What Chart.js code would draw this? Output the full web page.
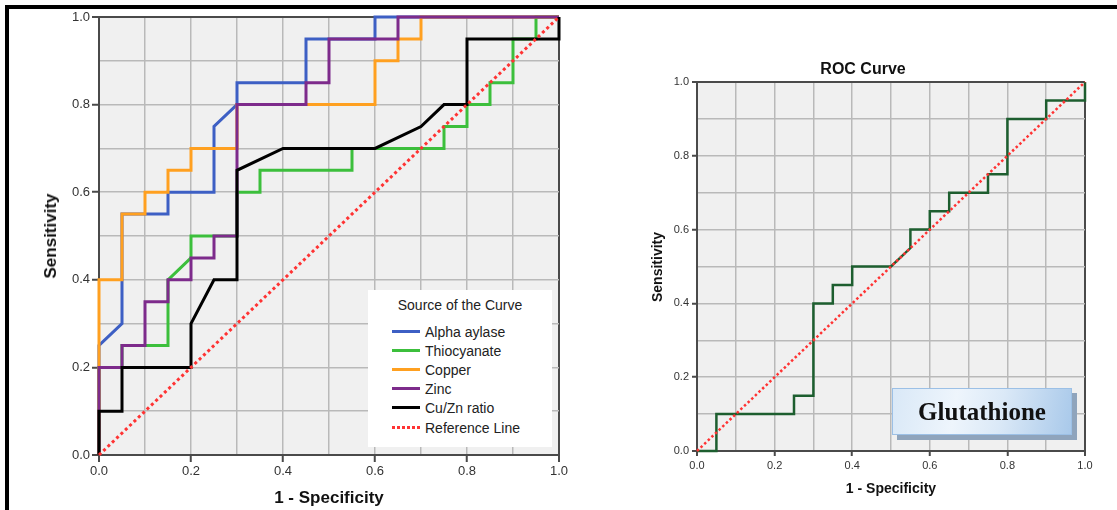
<!DOCTYPE html>
<html>
<head>
<meta charset="utf-8">
<script src="https://cdn.jsdelivr.net/npm/chart.js@4.4.0/dist/chart.umd.min.js"></script>
<style>
  html, body { margin:0; padding:0; }
  body { width:1117px; height:510px; background:#fff; position:relative; overflow:hidden;
         font-family:"Liberation Sans", Arial, sans-serif; color:#222; }
  .abs { position:absolute; }
  canvas { position:absolute; top:0; }
  #frameTop { left:5px; top:5px; width:1112px; height:4px; background:#000; z-index:5; }
  #frameLeft { left:5px; top:5px; width:4px; height:505px; background:#000; z-index:5; }
  .ttl { position:absolute; font-weight:bold; color:#111; white-space:nowrap; }
  .rot { transform:translate(-50%,-50%) rotate(-90deg); }
  .ctr { transform:translate(-50%,-50%); }
  #legend { left:368px; top:290px; width:184px; height:157px; background:#fff; z-index:4; }
  #legend .lt { position:absolute; left:0; width:184px; top:6px; text-align:center; font-size:14px; line-height:18px; color:#222; }
  #legend .row { position:absolute; left:0; height:18px; line-height:18px; font-size:14px; color:#222; }
  #legend .sw { position:absolute; left:24px; top:7px; width:28px; height:3px; }
  #legend .tx { position:absolute; left:57px; top:0; white-space:nowrap; }
  #gbox { left:892px; top:388px; width:180px; height:47px; box-sizing:border-box;
          border:1px solid #9cc0e6;
          background:linear-gradient(100deg, #d9e8f7 0%, #eef5fc 35%, #dbe9f7 60%, #a9c9ea 100%);
          box-shadow:5px 5px 0 #8fa4bc; z-index:4;
          font-family:"Liberation Serif", "Times New Roman", serif; font-weight:bold; font-size:25px;
          color:#111; text-align:center; line-height:45px; }
</style>
</head>
<body>
<canvas id="c1" width="600" height="510" style="left:0px;"></canvas>
<canvas id="c2" width="497" height="510" style="left:620px;"></canvas>
<div id="frameTop" class="abs"></div>
<div id="frameLeft" class="abs"></div>

<div class="ttl ctr" style="left:329px; top:498px; font-size:17px;">1 - Specificity</div>
<div class="ttl rot" style="left:51px; top:236px; font-size:17px;">Sensitivity</div>

<div class="ttl ctr" style="left:863px; top:69px; font-size:16px;">ROC Curve</div>
<div class="ttl ctr" style="left:891px; top:488px; font-size:14px;">1 - Specificity</div>
<div class="ttl rot" style="left:657px; top:267px; font-size:14px;">Sensitivity</div>

<div id="legend" class="abs">
  <div class="lt">Source of the Curve</div>
</div>
<div id="gbox" class="abs">Glutathione</div>

<script>
// ---------- data ----------
const gridTicks  = [0, 0.1, 0.2, 0.3, 0.4, 0.5, 0.6, 0.7, 0.8, 0.9, 1.0];
const tickLabels = ['0.0', '0.2', '0.4', '0.6', '0.8', '1.0'];

const seriesNames = ['Alpha aylase', 'Thiocyanate', 'Copper', 'Zinc', 'Cu/Zn ratio', 'Reference Line'];

const alphaX = [0, 0, 0.05, 0.05, 0.15, 0.15, 0.25, 0.25, 0.30, 0.30, 0.45, 0.45, 0.60, 0.60, 1.0];
const alphaY = [0, 0.25, 0.30, 0.55, 0.55, 0.60, 0.60, 0.75, 0.80, 0.85, 0.85, 0.95, 0.95, 1.0, 1.0];

const thioX = [0, 0, 0.05, 0.05, 0.15, 0.15, 0.20, 0.20, 0.30, 0.30, 0.35, 0.35, 0.55, 0.55, 0.75, 0.75, 0.80, 0.80, 0.85, 0.85, 0.90, 0.90, 0.95, 0.95, 1.0];
const thioY = [0, 0.20, 0.20, 0.25, 0.25, 0.40, 0.45, 0.50, 0.50, 0.60, 0.60, 0.65, 0.65, 0.70, 0.70, 0.75, 0.75, 0.80, 0.80, 0.85, 0.85, 0.95, 0.95, 1.0, 1.0];

const copperX = [0, 0, 0.05, 0.05, 0.10, 0.10, 0.15, 0.15, 0.20, 0.20, 0.30, 0.30, 0.60, 0.60, 0.65, 0.65, 0.70, 0.70, 1.0];
const copperY = [0, 0.40, 0.40, 0.55, 0.55, 0.60, 0.60, 0.65, 0.65, 0.70, 0.70, 0.80, 0.80, 0.90, 0.90, 0.95, 0.95, 1.0, 1.0];

const zincX = [0, 0, 0.05, 0.05, 0.10, 0.10, 0.15, 0.15, 0.20, 0.20, 0.25, 0.25, 0.30, 0.30, 0.45, 0.45, 0.50, 0.50, 0.65, 0.65, 1.0];
const zincY = [0, 0.20, 0.20, 0.25, 0.25, 0.35, 0.35, 0.40, 0.40, 0.45, 0.45, 0.50, 0.50, 0.80, 0.80, 0.85, 0.85, 0.95, 0.95, 1.0, 1.0];

const cuznX = [0, 0, 0.05, 0.05, 0.20, 0.20, 0.25, 0.30, 0.30, 0.40, 0.60, 0.70, 0.75, 0.80, 0.80, 1.0, 1.0];
const cuznY = [0, 0.10, 0.10, 0.20, 0.20, 0.30, 0.40, 0.40, 0.65, 0.70, 0.70, 0.75, 0.80, 0.80, 0.95, 0.95, 1.0];

const refX = [0, 1];
const refY = [0, 1];

const glutX = [0, 0.05, 0.05, 0.25, 0.25, 0.30, 0.30, 0.35, 0.35, 0.40, 0.40, 0.50, 0.55, 0.55, 0.60, 0.60, 0.65, 0.65, 0.75, 0.75, 0.80, 0.80, 0.90, 0.90, 1.0, 1.0];
const glutY = [0, 0, 0.10, 0.10, 0.15, 0.15, 0.40, 0.40, 0.45, 0.45, 0.50, 0.50, 0.55, 0.60, 0.60, 0.65, 0.65, 0.70, 0.70, 0.75, 0.75, 0.90, 0.90, 0.95, 0.95, 1.0];

// ---------- styling ----------
const COLORS = { alpha:'#3d5fc4', thio:'#3cbf3c', copper:'#ffa020', zinc:'#7d2b8b', cuzn:'#000000', ref:'#ff3333', glut:'#1d5e2f' };
const FRAME = '#4a4a4a';
const GRID  = '#b9b9b9';

function pts(xs, ys) { return xs.map((x, i) => ({ x: x, y: ys[i] })); }

function line(label, xs, ys, color, width, order, dash) {
  return {
    label: label, data: pts(xs, ys), showLine: true, borderColor: color, backgroundColor: color,
    borderWidth: width, pointRadius: 0, pointHoverRadius: 0, tension: 0, fill: false,
    order: order, clip: 6, borderDash: dash || [], borderCapStyle: 'butt', borderJoinStyle: 'miter'
  };
}

const bgPlugin = {
  id: 'plotBg',
  beforeDraw(chart) {
    const a = chart.chartArea, ctx = chart.ctx;
    ctx.save(); ctx.fillStyle = '#f0f0f0';
    ctx.fillRect(a.left, a.top, a.right - a.left, a.bottom - a.top);
    ctx.restore();
  }
};

function axis(isX, cfg) {
  return {
    type: 'linear', min: 0, max: 1,
    afterBuildTicks: s => { s.ticks = gridTicks.map(v => ({ value: v })); },
    afterFit: s => { if (isX) s.height = cfg.xh; else s.width = cfg.yw; },
    ticks: {
      autoSkip: false, maxRotation: 0, minRotation: 0,
      padding: cfg.tickPad, color: '#333',
      font: { family: '"Liberation Sans", Arial, sans-serif', size: cfg.tickFont },
      callback: (v, i) => (i % 2 === 0 ? tickLabels[i / 2] : '')
    },
    grid: {
      drawTicks: true, tickLength: cfg.tickLen,
      color: ctx => (ctx.index === 0 || ctx.index === gridTicks.length - 1) ? FRAME : GRID,
      lineWidth: ctx => (ctx.index === 0 || ctx.index === gridTicks.length - 1) ? 2 : 1.5,
      tickColor: ctx => (ctx.index % 2 === 0) ? FRAME : 'rgba(0,0,0,0)',
      tickWidth: 2
    },
    border: { display: true, color: FRAME, width: 2 }
  };
}

function options(cfg) {
  return {
    responsive: false, animation: false, events: [],
    layout: { padding: { top: cfg.top, right: cfg.right, left: 0, bottom: 0 } },
    plugins: { legend: { display: false }, tooltip: { enabled: false }, title: { display: false } },
    scales: { x: axis(true, cfg), y: axis(false, cfg) }
  };
}

// ---------- left chart ----------
const leftDatasets = [
  line(seriesNames[5], refX, refY, COLORS.ref, 3, 0, [3, 3]),
  line(seriesNames[4], cuznX, cuznY, COLORS.cuzn, 3, 1),
  line(seriesNames[3], zincX, zincY, COLORS.zinc, 3, 2),
  line(seriesNames[2], copperX, copperY, COLORS.copper, 3, 3),
  line(seriesNames[1], thioX, thioY, COLORS.thio, 3, 4),
  line(seriesNames[0], alphaX, alphaY, COLORS.alpha, 3, 5)
];
new Chart(document.getElementById('c1'), {
  type: 'scatter',
  data: { datasets: leftDatasets },
  options: options({ top: 17, right: 41, xh: 55, yw: 99, tickPad: 2, tickLen: 7, tickFont: 13 }),
  plugins: [bgPlugin]
});

// ---------- right chart ----------
new Chart(document.getElementById('c2'), {
  type: 'scatter',
  data: { datasets: [
    line('Reference Line', refX, refY, COLORS.ref, 2.5, 0, [2.5, 2.5]),
    line('Glutathione', glutX, glutY, COLORS.glut, 2.5, 1)
  ] },
  options: options({ top: 82, right: 32, xh: 59, yw: 77, tickPad: 3, tickLen: 5, tickFont: 11 }),
  plugins: [bgPlugin]
});

// ---------- legend (HTML) ----------
const legendColors = [COLORS.alpha, COLORS.thio, COLORS.copper, COLORS.zinc, COLORS.cuzn, COLORS.ref];
const legend = document.getElementById('legend');
seriesNames.forEach((name, i) => {
  const row = document.createElement('div');
  row.className = 'row';
  row.style.top = (33 + i * 19.1) + 'px';
  const sw = document.createElement('div');
  sw.className = 'sw';
  if (i === 5) {
    sw.style.background = 'repeating-linear-gradient(to right, ' + legendColors[i] + ' 0 3px, transparent 3px 5px)';
  } else {
    sw.style.background = legendColors[i];
  }
  const tx = document.createElement('div');
  tx.className = 'tx';
  tx.textContent = name;
  row.appendChild(sw); row.appendChild(tx);
  legend.appendChild(row);
});
</script>
</body>
</html>
